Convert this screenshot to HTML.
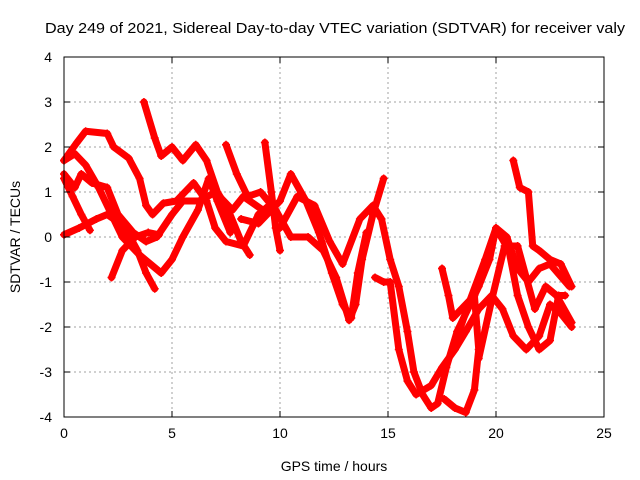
<!DOCTYPE html>
<html><head><meta charset="utf-8"><style>
body{margin:0;background:#fff;}
svg{display:block;font-family:"Liberation Sans",sans-serif;}
</style></head><body>
<svg id="chart" width="640" height="480">
<text x="335" y="33" text-anchor="middle" font-size="15" textLength="580" lengthAdjust="spacingAndGlyphs">Day 249 of 2021, Sidereal Day-to-day VTEC variation (SDTVAR) for receiver valy</text>
<text x="334" y="471" text-anchor="middle" font-size="14">GPS time / hours</text>
<text transform="translate(20,237) rotate(-90)" text-anchor="middle" font-size="14">SDTVAR / TECUs</text>
<g id="grid"></g><g id="series"></g><g id="axes"></g>
</svg>
<script>
const xTicks=[0,5,10,15,20,25];
const yTicks=[-4,-3,-2,-1,0,1,2,3,4];
const seriesA=[[0,1.7],[0.6,2.1],[1,2.35],[2,2.3],[2.3,2.0],[3,1.75],[3.5,1.3],[3.8,0.7],[4.1,0.5],[4.6,0.75],[5.2,0.8],[6,1.2],[6.6,0.8],[7,0.2],[7.5,-0.1],[8.3,-0.2],[9,0.5],[9.5,0.7]];
const seriesB=[[0,1.7],[0.5,1.85],[1,1.6],[1.6,1.1],[2.2,0.5],[2.7,0.0],[3.5,-0.4],[4.5,-0.8],[5,-0.5],[5.5,0.0],[6.2,0.6],[6.7,1.3],[7.1,0.8],[7.7,0.1]];
const seriesC=[[0,1.4],[0.5,1.1],[0.8,1.4],[1.3,1.2],[2,1.1],[2.5,0.5],[3.2,0.1],[3.8,-0.1],[4.3,0],[5,0.5],[5.5,0.8],[6.3,0.8],[7,1.0],[7.8,0.6],[8.3,0.9],[9.2,0.6]];
const seriesD=[[0,0.05],[0.7,0.2],[1.5,0.4],[2,0.5],[2.6,0.3],[3,0.05],[3.4,-0.3],[3.8,-0.8],[4.2,-1.15]];
const seriesE=[[0,1.3],[0.4,0.9],[0.8,0.5],[1.2,0.15]];
const seriesF=[[2.2,-0.9],[2.7,-0.3],[3.3,0],[3.9,0.1],[4.4,0.05]];
const seriesG=[[3.7,3.0],[4.2,2.2],[4.5,1.8],[5,2.0],[5.5,1.7],[6.1,2.05],[6.6,1.7],[7.1,1.0],[7.6,0.6],[8.2,-0.1],[8.6,-0.4]];
const seriesH=[[7.5,2.05],[8,1.4],[8.5,0.9],[9.1,1.0],[9.8,0.6],[10.5,0.0],[11.3,0],[12,-0.3],[12.6,-0.9],[13.2,-1.85],[13.5,-1.5],[13.8,-0.5],[14.3,0.5],[14.8,1.3]];
const seriesI=[[9.3,2.1],[9.6,1.0],[9.8,0.2],[10,-0.3]];
const seriesJ=[[8.2,0.4],[9,0.3],[10,0.8],[10.5,1.4],[11.2,0.8],[11.8,0.1],[12.4,-0.8],[12.9,-1.5],[13.3,-1.8],[13.6,-0.8],[14,0.1]];
const seriesK=[[10,0.2],[10.8,0.9],[11.6,0.7],[12.3,-0.1],[12.9,-0.6],[13.7,0.4],[14.3,0.7],[14.7,0.4],[15.1,-0.5],[15.5,-1.1],[15.9,-2.1],[16.2,-3.0],[16.6,-3.5],[17,-3.8],[17.3,-3.7],[17.7,-2.9],[18.2,-2.1],[18.8,-1.5],[19.2,-1.1],[19.7,-0.5],[20,0.2],[20.5,0],[21,-0.7],[21.5,-1.0],[22,-0.7],[22.5,-0.6],[23.4,-1.1]];
const seriesL=[[14.4,-0.9],[14.8,-1.0],[15.1,-1.0],[15.5,-2.5],[15.9,-3.2],[16.3,-3.5],[17,-3.3],[17.5,-2.9],[18.1,-2.5],[18.6,-2.1],[19.2,-1.6],[19.8,-1.3],[20.3,-1.6],[20.8,-2.2],[21.4,-2.5],[22,-2.2],[22.5,-1.5],[23,-1.7],[23.5,-2.0]];
const seriesM=[[17.5,-0.7],[17.8,-1.3],[18,-1.8],[18.6,-1.5],[19,-1.3],[19.2,-2.5],[19,-3.4],[18.6,-3.9],[18.1,-3.8],[17.6,-3.6]];
const seriesN=[[18,-2.5],[18.8,-1.4],[19.5,-0.5],[20,0.2],[20.6,-0.3],[21,-1.3],[21.5,-2.0],[22,-2.5],[22.5,-2.3],[22.9,-1.3],[23.2,-1.3]];
const seriesO=[[20.8,1.7],[21.1,1.1],[21.5,1.0],[21.7,-0.2],[22,-0.3],[22.5,-0.5],[23,-0.6],[23.5,-1.1]];
const seriesP=[[19.2,-2.7],[19.8,-1.4],[20.4,-0.2],[21,-0.2],[21.4,-0.9],[21.8,-1.6],[22.3,-1.1],[22.8,-1.3],[23.5,-1.9]];
const allSeries=[seriesA,seriesB,seriesC,seriesD,seriesE,seriesF,seriesG,seriesH,seriesI,seriesJ,seriesK,seriesL,seriesM,seriesN,seriesO,seriesP];

const X0=64,X1=604,Y0=417,Y1=57;
function xs(t){return X0+(t-0)/(25-0)*(X1-X0);}
function ys(v){return Y0-(v+4)/8*(Y0-Y1);}
const NS="http://www.w3.org/2000/svg";
function mk(tag,attrs,parent){const e=document.createElementNS(NS,tag);for(const k in attrs)e.setAttribute(k,attrs[k]);parent.appendChild(e);return e;}
const grid=document.getElementById('grid'),axes=document.getElementById('axes'),sg=document.getElementById('series');
xTicks.forEach(t=>{
  const x=xs(t);
  if(t>0&&t<25){const l=mk('line',{x1:x,x2:x,y1:Y1,y2:Y0,stroke:'#a0a0a0','stroke-dasharray':'2,3'},grid);
  
  }
  mk('line',{x1:x,x2:x,y1:Y0,y2:Y0-6,stroke:'#000'},axes);
  mk('line',{x1:x,x2:x,y1:Y1,y2:Y1+6,stroke:'#000'},axes);
  const tx=mk('text',{x:x,y:Y0+21,'text-anchor':'middle','font-size':'14'},axes);
  tx.textContent=t;
  
  
});
yTicks.forEach(v=>{
  const y=ys(v);
  if(v>-4&&v<4){const l=mk('line',{x1:X0,x2:X1,y1:y,y2:y,stroke:'#a0a0a0','stroke-dasharray':'2,3'},grid);
  
  }
  mk('line',{x1:X0,x2:X0+6,y1:y,y2:y,stroke:'#000'},axes);
  mk('line',{x1:X1,x2:X1-6,y1:y,y2:y,stroke:'#000'},axes);
  const tx=mk('text',{x:X0-12,y:y+5,'text-anchor':'end','font-size':'14'},axes);
  tx.textContent=v;
  
  
});
const frame=mk('rect',{x:X0,y:Y1,width:X1-X0,height:Y0-Y1,fill:'none',stroke:'#000'},axes);


allSeries.forEach((s,i)=>{
  const p=mk('polyline',{points:s.map(d=>xs(d[0])+','+ys(d[1])).join(' '),fill:'none',stroke:'#ff0000','stroke-width':'7','stroke-linejoin':'round','stroke-linecap':'round'},sg);
  
  
  s.forEach(d=>{
    const x=xs(d[0]),y=ys(d[1]);
    const m=mk('path',{d:`M${x-4},${y}H${x+4}M${x},${y-4}V${y+4}`,stroke:'#ff0000','stroke-width':'1.5'},sg);
    
    
  });
});
</script>
</body></html>
